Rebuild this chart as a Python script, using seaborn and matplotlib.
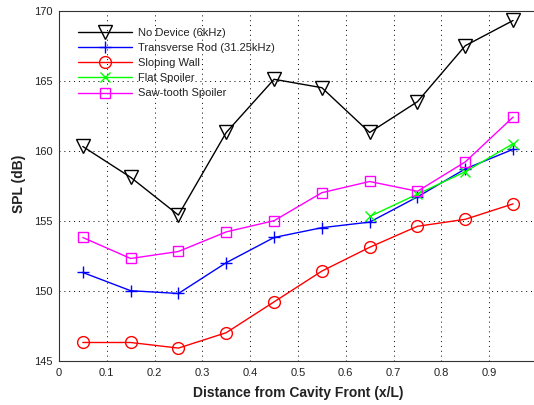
import matplotlib

matplotlib.use("Agg")
import matplotlib.pyplot as plt
import numpy as np
import pandas as pd
import seaborn as sns

X_POS = [0.05, 0.15, 0.25, 0.35, 0.45, 0.55, 0.65, 0.75, 0.85, 0.95]
X_FLAT = [0.65, 0.75, 0.85, 0.95]

NO_DEVICE = [160.3, 158.1, 155.4, 161.3, 165.1, 164.5, 161.3, 163.5, 167.5, 169.3]
TRANSVERSE_ROD = [151.3, 150.0, 149.8, 152.0, 153.8, 154.5, 154.9, 156.7, 158.7, 160.1]
SLOPING_WALL = [146.3, 146.3, 145.9, 147.0, 149.2, 151.4, 153.1, 154.6, 155.1, 156.2]
FLAT_SPOILER = [155.3, 156.9, 158.5, 160.5]
SAW_TOOTH = [153.8, 152.3, 152.8, 154.2, 155.0, 157.0, 157.8, 157.1, 159.2, 162.4]

SERIES = [
    ("No Device (6kHz)", X_POS, NO_DEVICE, "black", "v", 9.5),
    ("Transverse Rod (31.25kHz)", X_POS, TRANSVERSE_ROD, "#0000ff", "+", 9),
    ("Sloping Wall", X_POS, SLOPING_WALL, "#ff0000", "o", 8.5),
    ("Flat Spoiler", X_FLAT, FLAT_SPOILER, "#00ff00", "x", 6.5),
    ("Saw-tooth Spoiler", X_POS, SAW_TOOTH, "#ff00ff", "s", 7.2),
]

X_TICKS = [0, 0.1, 0.2, 0.3, 0.4, 0.5, 0.6, 0.7, 0.8, 0.9]
X_TICK_LABELS = ["0", "0.1", "0.2", "0.3", "0.4", "0.5", "0.6", "0.7", "0.8", "0.9"]
Y_TICKS = [145, 150, 155, 160, 165, 170]

sns.set_theme(style="white")
plt.rcParams["font.family"] = ["Liberation Sans", "DejaVu Sans"]

fig = plt.figure(figsize=(5.34, 4.05), dpi=100)
# the original is cropped on the right, so the axes run slightly past the figure edge
ax = fig.add_axes([0.1103, 0.1094, 0.8953, 0.8642])

for label, xs, ys, color, marker, size in SERIES:
    df = pd.DataFrame({"x": xs, "y": ys})
    sns.lineplot(
        data=df,
        x="x",
        y="y",
        color=color,
        marker=marker,
        markersize=size,
        markerfacecolor="none",
        markeredgecolor=color,
        markeredgewidth=1.0,
        linewidth=1.0,
        label=label,
        ax=ax,
        zorder=3,
    )

ax.set_xlim(0, 1)
ax.set_ylim(145, 170)
ax.set_xticks(X_TICKS)
ax.set_xticklabels(X_TICK_LABELS)
ax.set_yticks(Y_TICKS)
ax.grid(True, color="black", linestyle=(0, (1, 4)), linewidth=0.7)
ax.set_axisbelow(True)
ax.tick_params(direction="in", length=3, width=0.5, labelsize=8, colors="#222222")
ax.tick_params(axis="x", pad=5)
ax.tick_params(axis="y", pad=4.5)
for spine in ax.spines.values():
    spine.set_color("#333333")
    spine.set_linewidth(0.8)

ax.set_xlabel("Distance from Cavity Front (x/L)", fontsize=10, fontweight="bold", color="#222222")
ax.set_ylabel("SPL (dB)", fontsize=10, fontweight="bold", color="#222222")
ax.xaxis.label.set_va("center")
ax.yaxis.label.set_va("center")
ax.xaxis.set_label_coords(0.5, -0.092)
ax.yaxis.set_label_coords(-0.083, 0.505)

handles, labels = ax.get_legend_handles_labels()
ax.legend(
    handles,
    labels,
    loc="upper left",
    bbox_to_anchor=(0.146, 0.931),
    bbox_transform=fig.transFigure,
    frameon=False,
    borderpad=0,
    borderaxespad=0,
    handlelength=4.9,
    handletextpad=0.5,
    labelspacing=0.46,
    fontsize=8,
    labelcolor="#222222",
)

fig.savefig("out.png", dpi=100)
plt.close(fig)
